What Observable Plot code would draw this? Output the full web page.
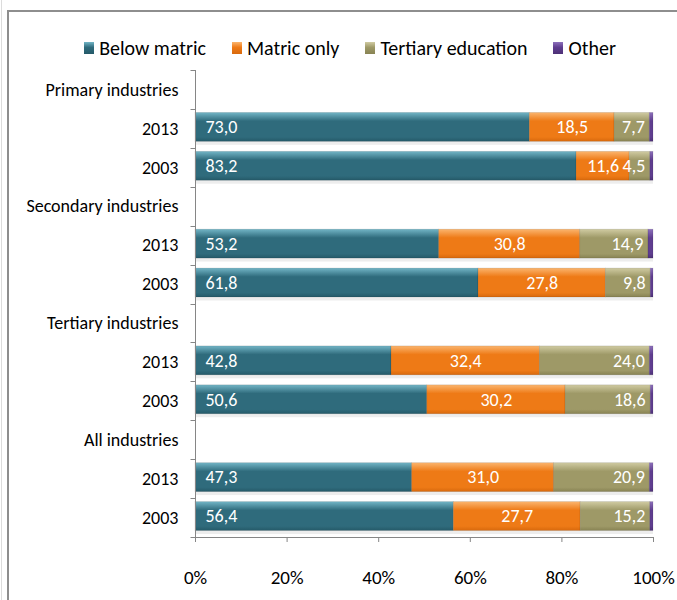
<!DOCTYPE html>
<html>
<head>
<meta charset="utf-8">
<script src="https://cdn.jsdelivr.net/npm/d3@7"></script>
<script src="https://cdn.jsdelivr.net/npm/@observablehq/plot@0.6"></script>
<style>
  html, body { margin: 0; padding: 0; background: #fff; }
  body { width: 677px; height: 600px; position: relative; overflow: hidden;
         font-family: Carlito, "Liberation Sans Narrow", "DejaVu Sans Condensed", sans-serif; }
  #edge { position: absolute; left: 1px; top: 0; width: 1px; height: 600px; background: #dcdcdc; }
  #frame { position: absolute; left: 7px; top: 10px; width: 700px; height: 620px;
           border-left: 2px solid #8e8e8e; border-top: 2px solid #8e8e8e; box-sizing: border-box; }
  #chart { position: absolute; left: 0; top: 0; }
  #legend { position: absolute; left: 0; top: 36px; width: 700px; display: flex; justify-content: center;
            gap: 26px; font-size: 20px; color: #000; line-height: 24px; }
  .item { display: flex; align-items: center; gap: 5px; }
  .sw { width: 10px; height: 12px; display: inline-block; }
</style>
</head>
<body>
<div id="edge"></div>
<div id="frame"></div>
<div id="chart"></div>
<div id="legend"></div>
<script>
// ---- data ----
const groups = ["Primary industries", "Secondary industries", "Tertiary industries", "All industries"];
const years = ["2013", "2003"];
const categories = ["Below matric", "Matric only", "Tertiary education", "Other"];
// order: Primary 2013, Primary 2003, Secondary 2013, Secondary 2003, Tertiary 2013, Tertiary 2003, All 2013, All 2003
const belowMatric = [73.0, 83.2, 53.2, 61.8, 42.8, 50.6, 47.3, 56.4];
const matricOnly  = [18.5, 11.6, 30.8, 27.8, 32.4, 30.2, 31.0, 27.7];
const tertiaryEd  = [7.7, 4.5, 14.9, 9.8, 24.0, 18.6, 20.9, 15.2];
const other       = [0.8, 0.7, 1.1, 0.6, 0.8, 0.6, 0.8, 0.7];
const xTicks = [0, 20, 40, 60, 80, 100];

const baseColors = ["#2f6b7c", "#ee7a16", "#9e9967", "#5f3d8f"];
const lightColors = ["#72b5c6", "#fbb56e", "#d0cba2", "#8d70bb"];
const darkColors = ["#255a69", "#d8690d", "#888353", "#4d3176"];
const gradIds = ["gBelow", "gMatric", "gTert", "gOther"];

// ---- build tables ----
const rows = [];
const data = [];
const series = [belowMatric, matricOnly, tertiaryEd, other];
groups.forEach((g, gi) => {
  rows.push(g + "|");
  years.forEach((yr, yi) => {
    const key = g + "|" + yr;
    rows.push(key);
    const idx = gi * 2 + yi;
    categories.forEach((c, ci) => data.push({row: key, edu: c, value: series[ci][idx]}));
  });
});
const rowLabel = (k) => { const [g, y] = k.split("|"); return y ? y : g; };
const fmt = (v) => d3.format(".1f")(v).replace(".", ",");

const font = 'Carlito, "Liberation Sans Narrow", "DejaVu Sans Condensed", sans-serif';

const defsMark = () => {
  const g = d3.create("svg:defs");
  gradIds.forEach((id, i) => {
    const lg = g.append("linearGradient").attr("id", id).attr("x1", 0).attr("y1", 0).attr("x2", 0).attr("y2", 1);
    lg.append("stop").attr("offset", "0").attr("stop-color", lightColors[i]);
    lg.append("stop").attr("offset", "0.3").attr("stop-color", baseColors[i]);
    lg.append("stop").attr("offset", "0.85").attr("stop-color", baseColors[i]);
    lg.append("stop").attr("offset", "1").attr("stop-color", darkColors[i]);
  });
  return g.node();
};

const axesMark = (index, scales, values, dims) => {
  const g = d3.create("svg:g").attr("stroke", "#868686").attr("stroke-width", 1);
  const y = scales.y, bw = y.bandwidth();
  const x0 = dims.marginLeft + 0.5;
  const top = dims.marginTop, bottom = dims.height - dims.marginBottom;
  const edges = rows.map(r => y(r)).concat([y(rows[rows.length - 1]) + bw]);
  g.selectAll("line.t").data(edges).join("line")
    .attr("x1", x0 - 5).attr("x2", x0).attr("y1", d => Math.round(d) + 0.5).attr("y2", d => Math.round(d) + 0.5);
  g.append("line").attr("x1", x0).attr("x2", x0).attr("y1", top).attr("y2", bottom);
  g.append("line").attr("x1", x0).attr("x2", dims.width - dims.marginRight).attr("y1", bottom + 0.5).attr("y2", bottom + 0.5);
  return g.node();
};

const stackOpts = {x: "value", y: "row", fill: "edu", insetTop: 3.5, insetBottom: 6.5};

const chart = Plot.plot({
  width: 677,
  height: 600,
  marginTop: 70,
  marginBottom: 63,
  marginLeft: 195,
  marginRight: 24,
  style: {fontFamily: font, fontSize: "18px", color: "#000", background: "transparent"},
  x: {domain: [0, 100], axis: null},
  y: {domain: rows, padding: 0, round: false, axis: null},
  color: {domain: categories, range: gradIds.map(id => `url(#${id})`)},
  marks: [
    defsMark,
    Plot.barX(data, Plot.stackX({x: "value", y: "row", fill: "#000", fillOpacity: 0.07, insetTop: 5.5, insetBottom: 5, dy: 2})),
    Plot.barX(data, Plot.stackX({...stackOpts, stroke: "#000", strokeOpacity: 0.12, strokeWidth: 0.8})),
    Plot.text(data, Plot.stackX1({x: "value", y: "row", text: d => d.edu === "Below matric" ? fmt(d.value) : null,
      textAnchor: "start", dx: 10, dy: -1.5, fill: "#fff", fontSize: 18})),
    Plot.text(data, Plot.stackX({x: "value", y: "row", text: d => d.edu === "Matric only" ? fmt(d.value) : null,
      textAnchor: "middle", dx: 0, dy: -1.5, fill: "#fff", fontSize: 18})),
    Plot.text(data, Plot.stackX2({x: "value", y: "row", text: d => d.edu === "Tertiary education" ? fmt(d.value) : null,
      textAnchor: "end", dx: -5, dy: -1.5, fill: "#fff", fontSize: 18})),
    Plot.axisY({tickSize: 0, tickPadding: 17, tickFormat: rowLabel, fontSize: 18, fill: "#000", label: null}),
    Plot.axisX({ticks: xTicks, tickFormat: d => d + "%", tickSize: 5, tickPadding: 28, stroke: "#868686", fill: "#000", fontSize: 19, label: null}),
    axesMark
  ]
});
document.getElementById("chart").appendChild(chart);

// ---- legend ----
const legend = document.getElementById("legend");
categories.forEach((c, i) => {
  const it = document.createElement("div");
  it.className = "item";
  const sw = document.createElement("span");
  sw.className = "sw";
  sw.style.background = `linear-gradient(${lightColors[i]}, ${baseColors[i]} 45%, ${darkColors[i]})`;
  const t = document.createElement("span");
  t.textContent = c;
  it.appendChild(sw); it.appendChild(t);
  legend.appendChild(it);
});
</script>
</body>
</html>
